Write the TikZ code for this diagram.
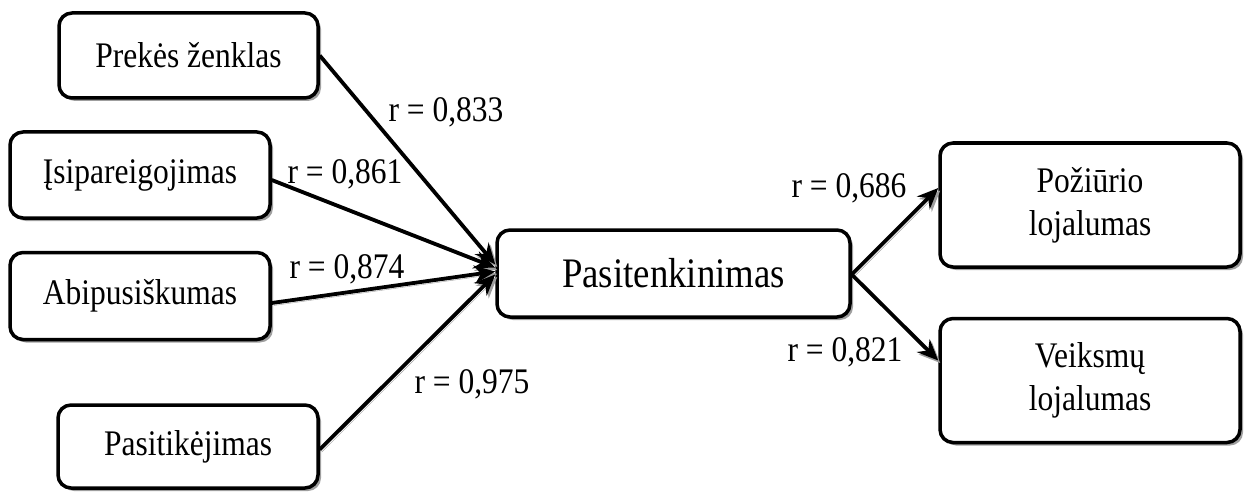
\documentclass[tikz,border=0pt]{standalone}
\usepackage{fontspec}
\setmainfont[FakeStretch=0.875]{Liberation Serif}
\usetikzlibrary{shadows,arrows.meta,calc}
\tikzset{
  factor/.style={draw=black, line width=3.5pt, rounded corners=13pt, fill=white,
    drop shadow={shadow xshift=3pt, shadow yshift=-3pt, fill=gray!75, opacity=1},
    align=center, inner sep=0pt,
    font=\fontsize{36}{43}\selectfont},
  centre/.style={factor, font=\fontsize{42}{46}\selectfont},
  rlabel/.style={anchor=base, inner sep=0pt, font=\fontsize{36}{40}\selectfont},
  link/.style={line width=3.8pt, draw=black,
    -{Stealth[length=21pt,width=18pt]},
    preaction={draw=gray!75, transform canvas={shift={(2pt,-2.5pt)}}}}
}
\begin{document}
\begin{tikzpicture}[x=1pt,y=-1pt]
\useasboundingbox (0,0) rectangle (1247,492);

% predictor boxes
\node[factor, minimum width=259pt, minimum height=85pt] (brand) at (188.5,55.5) {Prekės ženklas};
\node[factor, minimum width=260pt, minimum height=86pt] (commit) at (140,175) {Įsipareigojimas};
\node[factor, minimum width=260pt, minimum height=87pt] (recip) at (140,296) {Abipusiškumas};
\node[factor, minimum width=260pt, minimum height=83pt] (trust) at (188,446.5) {Pasitikėjimas};

% satisfaction
\node[centre, minimum width=353pt, minimum height=87pt] (satis) at (673.5,273.5) {Pasitenkinimas};

% loyalty outcomes
\node[factor, minimum width=300pt, minimum height=124pt] (attit) at (1090,205) {Požiūrio\\lojalumas};
\node[factor, minimum width=300pt, minimum height=124pt] (behav) at (1090,380.5) {Veiksmų\\lojalumas};

% links
\draw[link] (brand.east) -- ($(satis.west)+(0,-9)$);
\draw[link] ($(commit.east)+(0,5)$) -- ($(satis.west)+(0,-6)$);
\draw[link] ($(recip.east)+(0,7)$) -- ($(satis.west)+(0,-2)$);
\draw[link] ($(trust.east)+(0,3)$) -- ($(satis.west)+(0,1)$);
\draw[link] ($(satis.east)+(0,1)$) -- ($(attit.west)+(0,-17)$);
\draw[link] ($(satis.east)+(0,1)$) -- ($(behav.west)+(0,-20)$);

% correlation labels
\node[rlabel] (r1) at (446,122) {r = 0,833};
\node[rlabel] (r2) at (345,183) {r = 0,861};
\node[rlabel] (r3) at (347,278) {r = 0,874};
\node[rlabel] (r4) at (472,393) {r = 0,975};
\node[rlabel] (r5) at (849,197) {r = 0,686};
\node[rlabel] (r6) at (845,361) {r = 0,821};
\end{tikzpicture}
\end{document}
